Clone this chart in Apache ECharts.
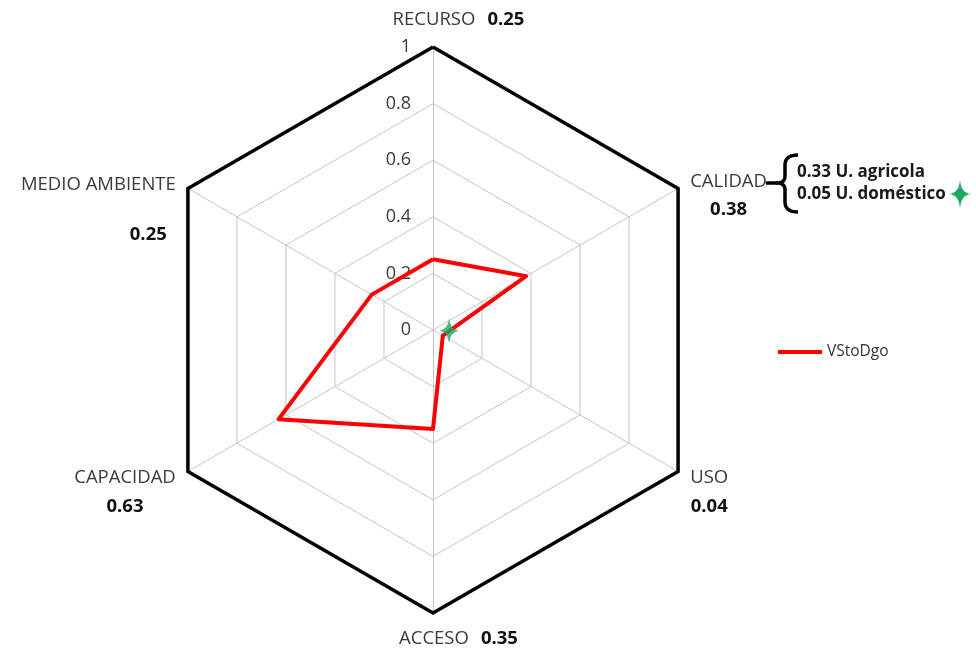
<!DOCTYPE html>
<html>
<head>
<meta charset="utf-8">
<script src="https://cdn.jsdelivr.net/npm/echarts@6/dist/echarts.min.js"></script>
<style>
html,body{margin:0;padding:0;background:#fff;}
#chart{width:976px;height:650px;}
</style>
</head>
<body>
<div id="chart"></div>
<script>
// Indicators in ECharts order (counter-clockwise starting at the top)
const indicatorNames = ['RECURSO', 'MEDIO AMBIENTE', 'CAPACIDAD', 'ACCESO', 'USO', 'CALIDAD'];
const indicatorMax = 1;
const seriesName = 'VStoDgo';
const seriesValues = [0.25, 0.25, 0.63, 0.35, 0.04, 0.38];
const tickLabels = ['0', '0.2', '0.4', '0.6', '0.8', '1'];
const calidadBreakdown = ['0.33 U. agricola', '0.05 U. doméstico'];
// green star marker near the centre: [radius, angle clockwise from top]
const starMarker = [0.057, 93];

const FONT = '"Open Sans", Carlito, Lato, sans-serif';
const CX = 433, CY = 330, R = 283;

function fmt(v) { return v.toFixed(2); }

function quad(p0, c, p1, n) {
  const pts = [];
  for (let i = 0; i <= n; i++) {
    const t = i / n, u = 1 - t;
    pts.push([u * u * p0[0] + 2 * u * t * c[0] + t * t * p1[0],
              u * u * p0[1] + 2 * u * t * c[1] + t * t * p1[1]]);
  }
  return pts;
}
function starPoints(cx, cy, rx, ry, k) {
  const tips = [[cx, cy - ry], [cx + rx, cy], [cx, cy + ry], [cx - rx, cy]];
  let pts = [];
  for (let i = 0; i < 4; i++) {
    const a = tips[i], b = tips[(i + 1) % 4];
    const c = [cx + ((a[0] - cx) + (b[0] - cx)) * k, cy + ((a[1] - cy) + (b[1] - cy)) * k];
    pts = pts.concat(quad(a, c, b, 10).slice(0, 10));
  }
  return pts;
}

function axisNameFormatter(name) {
  const i = indicatorNames.indexOf(name);
  const v = fmt(seriesValues[i]);
  switch (name) {
    case 'RECURSO':
      return '{padC| }{nr|' + name + '}{g| }{vr|' + v + '}';
    case 'ACCESO':
      return '{padC| }{na|' + name + '}{g| }{va|' + v + '}';
    case 'CALIDAD':
      return '{sp33| }\n{nc|' + name + '}\n{vc|' + v + '}';
    case 'USO':
    case 'CAPACIDAD':
      return '{sp33| }\n{nc|' + name + '}\n{vb|' + v + '}';
    case 'MEDIO AMBIENTE':
      return '{sp83| }\n{nm|' + name + '}\n{vm|' + v + '}';
  }
  return name;
}

const nameStyle = { fontFamily: FONT, fontSize: 18.5, color: '#3a3a3a' };
const valStyle = { fontFamily: FONT, fontSize: 18.5, color: '#111', fontWeight: 'bold' };

const starPath = 'path://M0,-12 Q1.4,-1.4 12,0 Q1.4,1.4 0,12 Q-1.4,1.4 -12,0 Q-1.4,-1.4 0,-12 Z';

const indicators = indicatorNames.map((n, i) => {
  const o = { name: n, max: indicatorMax, min: 0 };
  if (i === 0) {
    o.axisLabel = {
      show: true,
      showMinLabel: true,
      showMaxLabel: true,
      fontFamily: FONT,
      fontSize: 18,
      color: '#3a3a3a',
      margin: 22,
      formatter: function (val) {
        const idx = Math.round(val / 0.2);
        return tickLabels[idx] !== undefined ? tickLabels[idx] : '';
      }
    };
  }
  return o;
});

const bracePts = [].concat(
  quad([798, 155], [785, 155], [785, 165], 8),
  quad([785, 176], [785, 183], [777, 183], 8),
  quad([777, 183], [785, 183], [785, 190], 8),
  quad([785, 202], [785, 212], [798, 212], 8)
);

const chart = echarts.init(document.getElementById('chart'), null, { renderer: 'canvas' });
chart.setOption({
  animation: false,
  backgroundColor: '#ffffff',
  legend: {
    data: [seriesName],
    left: 773,
    top: 339,
    icon: 'rect',
    itemWidth: 44,
    itemHeight: 4,
    itemGap: 4,
    textStyle: { fontFamily: FONT, fontSize: 15.5, color: '#333' }
  },
  radar: [
    {
      center: [CX, CY],
      radius: R,
      startAngle: 90,
      shape: 'polygon',
      splitNumber: 5,
      indicator: indicators,
      nameGap: 14,
      axisName: {
        formatter: axisNameFormatter,
        rich: {
          padC: { width: 51 },
          g: { width: 12 },
          nr: Object.assign({ lineHeight: 26 }, nameStyle),
          vr: Object.assign({ lineHeight: 26 }, valStyle),
          na: Object.assign({ lineHeight: 24 }, nameStyle),
          va: Object.assign({ lineHeight: 24 }, valStyle),
          sp33: { lineHeight: 33, height: 33, fontSize: 1 },
          sp83: { lineHeight: 83, height: 83, fontSize: 1 },
          nc: Object.assign({ lineHeight: 24, align: 'center' }, nameStyle),
          vc: Object.assign({ lineHeight: 32, align: 'center' }, valStyle),
          vb: Object.assign({ lineHeight: 34, align: 'center' }, valStyle),
          nm: Object.assign({ lineHeight: 24 }, nameStyle),
          vm: Object.assign({ lineHeight: 77, padding: [0, 9, 0, 0] }, valStyle)
        }
      },
      axisLine: { lineStyle: { color: '#c6c6c6', width: 1 } },
      splitLine: { lineStyle: { color: '#c6c6c6', width: 1 } },
      splitArea: { show: false },
      axisTick: { show: false }
    },
    {
      center: [CX, CY],
      radius: R,
      startAngle: 90,
      shape: 'polygon',
      splitNumber: 1,
      z: 1,
      indicator: indicatorNames.map(n => ({ name: n, max: indicatorMax, min: 0 })),
      axisName: { show: false },
      axisLine: { show: false },
      axisLabel: { show: false },
      axisTick: { show: false },
      splitArea: { show: false },
      splitLine: { lineStyle: { color: '#000000', width: 3.5 } }
    }
  ],
  polar: { center: [CX, CY], radius: R },
  angleAxis: { type: 'value', min: 0, max: 360, startAngle: 90, clockwise: true, show: false },
  radiusAxis: { type: 'value', min: 0, max: indicatorMax, show: false },
  series: [
    {
      name: seriesName,
      type: 'radar',
      radarIndex: 0,
      z: 5,
      symbol: 'none',
      lineStyle: { color: '#ff0000', width: 4 },
      itemStyle: { color: '#ff0000' },
      data: [{ value: seriesValues, name: seriesName }]
    },
    {
      name: 'doméstico',
      type: 'scatter',
      coordinateSystem: 'polar',
      z: 6,
      symbol: starPath,
      symbolSize: [19, 25],
      itemStyle: { color: '#1fa862' },
      data: [starMarker]
    }
  ],
  graphic: [
    {
      type: 'polyline',
      z: 10,
      shape: { points: [[766, 183], [778, 183]] },
      style: { stroke: '#000', lineWidth: 3.5, fill: null }
    },
    {
      type: 'polyline',
      z: 10,
      shape: { points: bracePts },
      style: { stroke: '#000', lineWidth: 3.5, fill: null, lineJoin: 'round' }
    },
    {
      type: 'text',
      z: 10,
      style: { x: 797, y: 172, text: calidadBreakdown[0], verticalAlign: 'middle', align: 'left',
               fontFamily: FONT, fontSize: 17, fontWeight: 'bold', fill: '#1a1a1a' }
    },
    {
      type: 'text',
      z: 10,
      style: { x: 797, y: 194, text: calidadBreakdown[1], verticalAlign: 'middle', align: 'left',
               fontFamily: FONT, fontSize: 17, fontWeight: 'bold', fill: '#1a1a1a' }
    },
    {
      type: 'polygon',
      z: 10,
      shape: { points: starPoints(960, 194, 11, 15, 0.06) },
      style: { fill: '#1fa862' }
    }
  ]
});
</script>
</body>
</html>
